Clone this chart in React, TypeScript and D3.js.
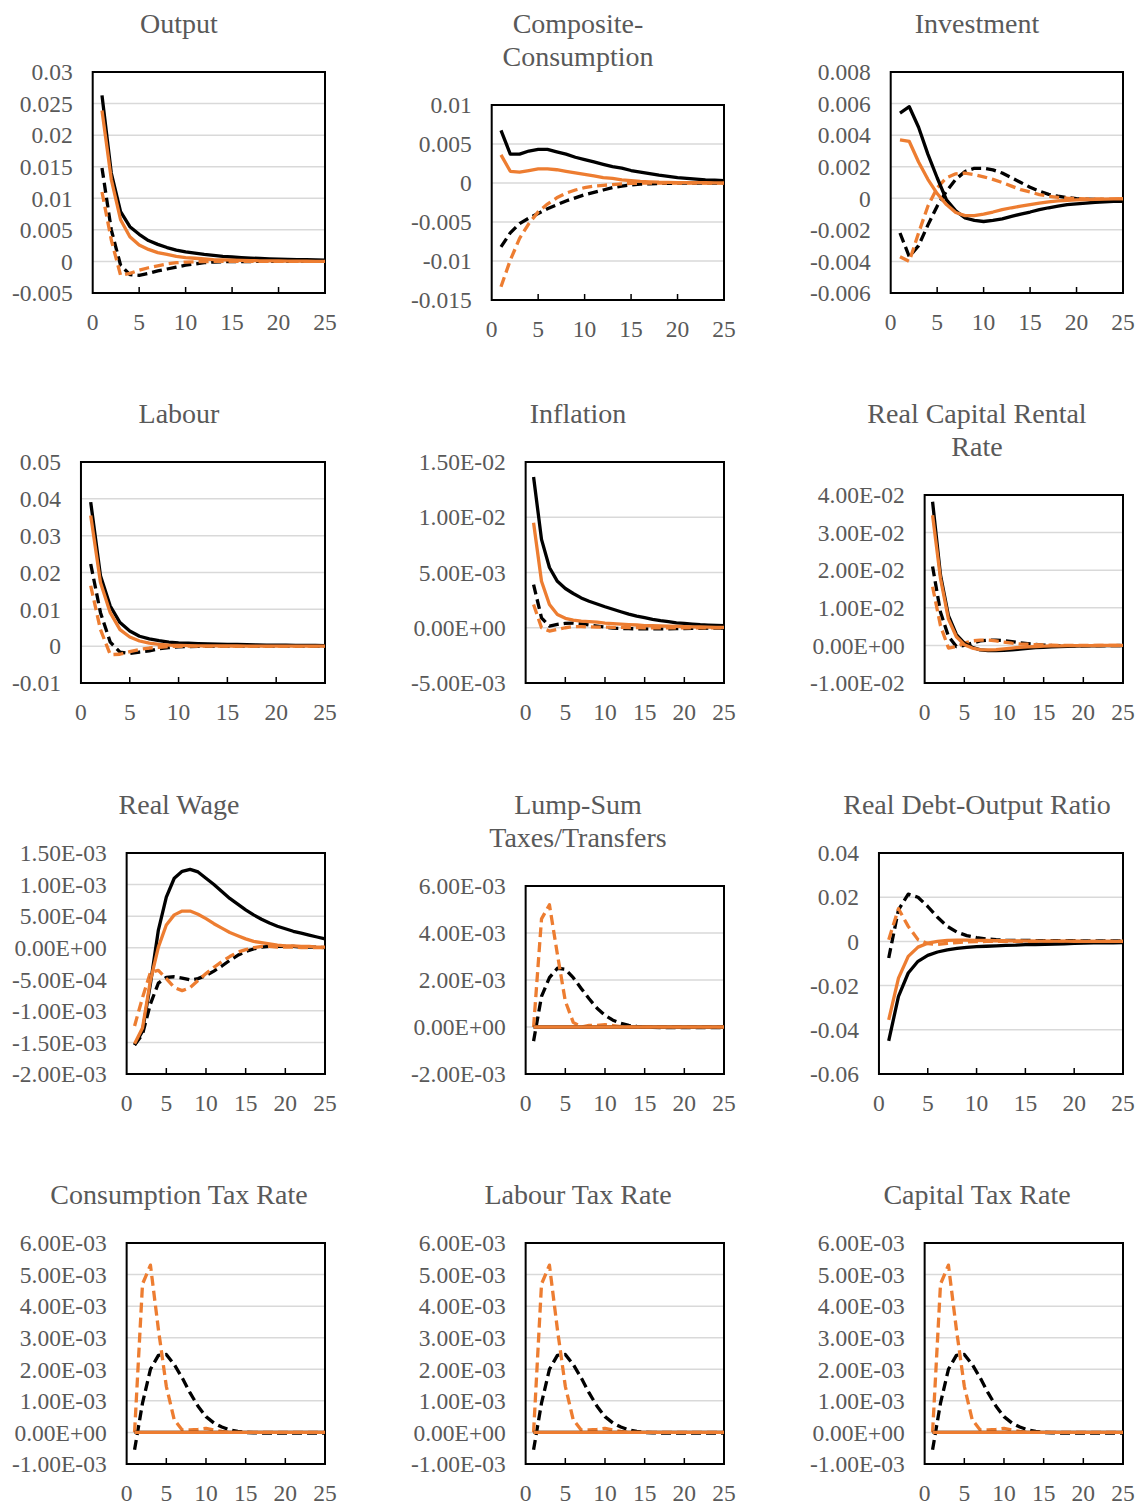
import React, { useEffect, useRef } from "react";
import * as d3 from "d3";

const WIDTH = 1138;
const HEIGHT = 1505;
const FONT = "'Liberation Serif', 'Times New Roman', serif";
const TEXT_COLOR = "#595959";
const ORANGE = "#ED7D31";

// series order in every panel: black solid, orange solid, black dashed, orange dashed
const SERIES_STYLE = [
  { color: "#000000", dash: null },
  { color: ORANGE, dash: null },
  { color: "#000000", dash: "10,5" },
  { color: ORANGE, dash: "10,5" },
];
// dashed responses sit underneath the solid ones
const DRAW_ORDER = [2, 3, 0, 1];

const X_TICKS = [0, 5, 10, 15, 20, 25];

// ---- Output
const outputS1 = [0.0263, 0.014, 0.0079, 0.0055, 0.0043, 0.0033, 0.0027, 0.0022, 0.0018, 0.0015, 0.0013, 0.0011, 0.00095, 0.0008, 0.0007, 0.0006, 0.00053, 0.00047, 0.00042, 0.00037, 0.00033, 0.0003, 0.00027, 0.00024, 0.0002];
const outputS2 = [0.0239, 0.013, 0.0066, 0.0039, 0.0026, 0.0019, 0.0014, 0.0011, 0.0008, 0.0006, 0.0005, 0.0004, 0.0003, 0.00025, 0.0002, 0.00016, 0.00013, 0.0001, 0.00008, 0.00007, 0.00005, 0.00004, 0.00003, 0.00002, 0.00002];
const outputS3 = [0.0148, 0.005, -0.0006, -0.0021, -0.0022, -0.0019, -0.0015, -0.0012, -0.0009, -0.0006, -0.0004, -0.0002, -0.0001, -0.00005, -0.00002, -0.00002, -0.00001, 0, 0, 0, 0, 0, 0, 0, 0];
const outputS4 = [0.011, 0.0034, -0.0022, -0.0019, -0.0014, -0.001, -0.0007, -0.0004, -0.0002, -0.0001, -0.00005, -0.00002, 0, 0, 0, 0, 0, 0, 0, 0, 0, 0, 0, 0, 0];

// ---- Composite-Consumption
const consS1 = [0.00675, 0.0037, 0.0037, 0.0041, 0.0043, 0.0043, 0.004, 0.0037, 0.0033, 0.003, 0.0027, 0.0024, 0.0021, 0.0019, 0.0016, 0.0014, 0.0012, 0.001, 0.00085, 0.0007, 0.0006, 0.0005, 0.0004, 0.00035, 0.0003];
const consS2 = [0.0036, 0.0015, 0.0014, 0.0016, 0.0018, 0.0018, 0.0017, 0.0015, 0.0013, 0.0011, 0.0009, 0.0007, 0.0006, 0.0004, 0.0003, 0.0002, 0.00015, 0.0001, 0.00008, 0.00006, 0.00005, 0.00004, 0.00003, 0.00002, 0.00002];
const consS3 = [-0.0082, -0.0064, -0.0052, -0.0045, -0.0039, -0.0033, -0.0028, -0.0023, -0.0019, -0.0015, -0.0012, -0.0009, -0.0006, -0.0004, -0.00025, -0.00015, -0.0001, -0.00006, -0.00004, -0.00002, -0.00001, 0, 0, 0, 0];
const consS4 = [-0.0133, -0.0099, -0.0071, -0.0052, -0.0037, -0.0027, -0.0019, -0.0013, -0.0009, -0.0006, -0.0004, -0.0003, -0.0002, -0.0001, -0.00005, -0.00002, 0, 0, 0, 0, 0, 0, 0, 0, 0];

// ---- Investment
const invS1 = [0.0054, 0.0058, 0.0045, 0.0028, 0.0013, -0.0001, -0.0008, -0.00125, -0.0014, -0.00147, -0.0014, -0.0013, -0.00115, -0.001, -0.00087, -0.00072, -0.0006, -0.0005, -0.0004, -0.00035, -0.0003, -0.00025, -0.00022, -0.0002, -0.0002];
const invS2 = [0.0037, 0.0036, 0.0023, 0.0012, 0.0003, -0.0004, -0.0009, -0.0011, -0.0011, -0.001, -0.00087, -0.00072, -0.0006, -0.0005, -0.0004, -0.0003, -0.00023, -0.00017, -0.00013, -0.0001, -0.00008, -0.00006, -0.00005, -0.00004, -0.00003];
const invS3 = [-0.0022, -0.0037, -0.003, -0.0017, -0.0005, 0.00045, 0.0012, 0.0017, 0.0019, 0.0019, 0.0018, 0.0016, 0.0013, 0.001, 0.0007, 0.00045, 0.00025, 0.00013, 0.00004, -0.00002, -0.00005, -0.00007, -0.00008, -0.00008, -0.00008];
const invS4 = [-0.0037, -0.004, -0.0022, -0.0005, 0.00066, 0.0013, 0.00155, 0.0016, 0.0015, 0.00136, 0.0012, 0.001, 0.00077, 0.00055, 0.0004, 0.00023, 0.00013, 0.00006, 0.00001, -0.00002, -0.00004, -0.00005, -0.00005, -0.00005, -0.00005];

// ---- Labour
const labS1 = [0.0391, 0.0191, 0.0109, 0.0064, 0.0041, 0.0027, 0.002, 0.0015, 0.0011, 0.0009, 0.0008, 0.0007, 0.0006, 0.00055, 0.0005, 0.00045, 0.0004, 0.00035, 0.0003, 0.0003, 0.00025, 0.00022, 0.0002, 0.00018, 0.00016];
const labS2 = [0.0355, 0.0173, 0.0091, 0.0045, 0.0025, 0.0014, 0.0008, 0.0005, 0.0003, 0.0002, 0.00015, 0.0001, 0.00008, 0.00006, 0.00005, 0.00004, 0.00003, 0.00002, 0.00002, 0.00001, 0.00001, 0, 0, 0, 0];
const labS3 = [0.0223, 0.0091, 0.0011, -0.0016, -0.002, -0.0016, -0.0013, -0.0007, -0.0004, -0.0002, -0.0001, -0.00005, -0.00002, 0, 0, 0, 0, 0, 0, 0, 0, 0, 0, 0, 0];
const labS4 = [0.0164, 0.0045, -0.0023, -0.0022, -0.0015, -0.0009, -0.0005, -0.0003, -0.0001, -0.00005, 0, 0, 0, 0, 0, 0, 0, 0, 0, 0, 0, 0, 0, 0, 0];

// ---- Inflation
const inflS1 = [0.01364, 0.008, 0.00545, 0.0042, 0.00355, 0.0031, 0.0027, 0.0024, 0.00215, 0.0019, 0.00167, 0.00145, 0.00124, 0.00106, 0.00091, 0.00076, 0.00064, 0.00055, 0.00045, 0.0004, 0.00033, 0.00027, 0.00024, 0.00022, 0.0002];
const inflS2 = [0.0095, 0.0042, 0.0021, 0.0012, 0.00085, 0.0007, 0.0006, 0.00055, 0.0005, 0.00042, 0.00037, 0.00033, 0.00029, 0.00025, 0.0002, 0.00018, 0.00016, 0.00014, 0.00012, 0.0001, 0.00008, 0.00007, 0.00005, 0.00004, 0.00003];
const inflS3 = [0.0039, 0.0009, 0.00015, 0.0003, 0.0004, 0.00042, 0.00036, 0.00024, 0.00015, 0.00006, -0.00003, -0.00006, -0.00008, -0.0001, -0.0001, -0.0001, -0.0001, -0.00009, -0.00008, -0.00007, -0.00006, -0.00005, -0.00004, -0.00003, -0.00002];
const inflS4 = [0.0021, 0, -0.0003, -0.00015, 0, 0.0001, 0.0001, 0.00008, 0.00006, 0.00005, 0.00004, 0.00003, 0.00002, 0.00001, 0, 0, 0, 0, 0, 0, 0, 0, 0, 0, 0];

// ---- Real Capital Rental Rate
const rentS1 = [0.0382, 0.0187, 0.0079, 0.0029, 0.0006, -0.0005, -0.0012, -0.0014, -0.0014, -0.0013, -0.0012, -0.001, -0.0008, -0.0006, -0.0005, -0.0004, -0.0003, -0.00025, -0.0002, -0.00015, -0.00012, -0.0001, -0.00008, -0.00006, -0.00005];
const rentS2 = [0.0346, 0.0178, 0.007, 0.0023, 0.0002, -0.0007, -0.0011, -0.0012, -0.0011, -0.0009, -0.0007, -0.0005, -0.0004, -0.0003, -0.0002, -0.00015, -0.0001, -0.00008, -0.00006, -0.00005, -0.00004, -0.00003, -0.00002, -0.00002, -0.00001];
const rentS3 = [0.021, 0.0088, 0.0024, -0.0003, 0, 0.0006, 0.0012, 0.0014, 0.0014, 0.0013, 0.001, 0.0007, 0.0005, 0.0003, 0.0001, 0, -0.00005, -0.00008, -0.0001, -0.0001, -0.00008, -0.00006, -0.00005, -0.00004, -0.00003];
const rentS4 = [0.0156, 0.0052, -0.0007, -0.0003, 0.0006, 0.0012, 0.0014, 0.0014, 0.0012, 0.0009, 0.0006, 0.0004, 0.0003, 0.0002, 0.0001, 0.00005, 0, 0, 0, 0, 0, 0, 0, 0, 0];

// ---- Real Wage
const wageS1 = [-0.00154, -0.00132, -0.00057, 0.00028, 0.0008, 0.0011, 0.00121, 0.00124, 0.0012, 0.0011, 0.001, 0.00089, 0.00078, 0.00069, 0.0006, 0.00052, 0.00045, 0.00039, 0.00034, 0.0003, 0.00026, 0.00023, 0.0002, 0.00017, 0.00014];
const wageS2 = [-0.00152, -0.00127, -0.00052, 0.00001, 0.00036, 0.00052, 0.00058, 0.00058, 0.00053, 0.00046, 0.00038, 0.00031, 0.00024, 0.00019, 0.00014, 0.0001, 0.00008, 0.00006, 0.00004, 0.00003, 0.00003, 0.00002, 0.00002, 0.00001, 0.00001];
const wageS3 = [-0.00154, -0.00137, -0.00089, -0.00056, -0.00047, -0.00046, -0.00048, -0.00051, -0.00049, -0.00044, -0.00037, -0.00029, -0.0002, -0.00012, -0.00006, -0.00002, 0.00001, 0.00002, 0.00002, 0.00002, 0.00002, 0.00001, 0.00001, 0.00001, 0];
const wageS4 = [-0.00124, -0.00079, -0.00039, -0.00036, -0.00049, -0.00063, -0.00068, -0.00063, -0.00052, -0.00041, -0.00031, -0.00022, -0.00014, -0.00007, -0.00003, 0, 0.00002, 0.00002, 0.00001, 0.00001, 0.00001, 0, 0, 0, 0];

// ---- Lump-Sum Taxes/Transfers
const lumpS1 = [0, 0, 0, 0, 0, 0, 0, 0, 0, 0, 0, 0, 0, 0, 0, 0, 0, 0, 0, 0, 0, 0, 0, 0, 0];
const lumpS2 = [0, 0, 0, 0, 0, 0, 0, 0, 0, 0, 0, 0, 0, 0, 0, 0, 0, 0, 0, 0, 0, 0, 0, 0, 0];
const lumpS3 = [-0.0006, 0.0013, 0.0021, 0.0025, 0.00246, 0.0021, 0.00164, 0.0012, 0.0008, 0.0005, 0.00029, 0.00016, 0.00007, 0.00003, 0, -0.00002, -0.00003, -0.00003, -0.00003, -0.00003, -0.00003, -0.00003, -0.00003, -0.00003, -0.00003];
const lumpS4 = [0, 0.0046, 0.0052, 0.0031, 0.0011, 0.0002, 0, 0.00007, 0.00007, 0.0001, 0.00006, 0.00002, 0, 0, 0, 0, 0, 0, 0, 0, 0, 0, 0, 0, 0];

// ---- Real Debt-Output Ratio
const debtS1 = [-0.045, -0.0249, -0.0143, -0.009, -0.0063, -0.0048, -0.0038, -0.0032, -0.0027, -0.0024, -0.0022, -0.002, -0.0018, -0.0017, -0.0015, -0.0014, -0.0013, -0.0012, -0.0011, -0.0009, -0.0008, -0.0007, -0.0006, -0.0006, -0.0005];
const debtS2 = [-0.0355, -0.0166, -0.0068, -0.0026, -0.0008, 0, 0.0005, 0.0006, 0.0006, 0.0005, 0.0004, 0.0003, 0.0003, 0.0002, 0.0002, 0.00015, 0.0001, 0.0001, 0.00008, 0.00006, 0.00005, 0.00004, 0.00003, 0.00002, 0.00002];
const debtS3 = [-0.0075, 0.0143, 0.0214, 0.02, 0.0158, 0.0109, 0.0068, 0.0042, 0.0026, 0.0017, 0.0011, 0.0008, 0.0006, 0.0005, 0.0004, 0.0004, 0.0003, 0.0003, 0.0003, 0.0003, 0.0002, 0.0002, 0.0002, 0.0002, 0.0002];
const debtS4 = [0.0008, 0.0148, 0.0068, 0.0008, -0.001, -0.0014, -0.0009, -0.0005, -0.0002, -0.0001, 0, 0, 0, 0, 0, 0, 0, 0, 0, 0, 0, 0, 0, 0, 0];

// ---- Tax rates (consumption, labour and capital panels plot the same responses)
const taxS1 = [0, 0, 0, 0, 0, 0, 0, 0, 0, 0, 0, 0, 0, 0, 0, 0, 0, 0, 0, 0, 0, 0, 0, 0, 0];
const taxS2 = [0, 0, 0, 0, 0, 0, 0, 0, 0, 0, 0, 0, 0, 0, 0, 0, 0, 0, 0, 0, 0, 0, 0, 0, 0];
const taxS3 = [-0.00055, 0.00093, 0.002, 0.00244, 0.00247, 0.00215, 0.00173, 0.00125, 0.00083, 0.0005, 0.0003, 0.00017, 0.00008, 0.00003, 0, -0.00001, -0.00002, -0.00002, -0.00002, -0.00002, -0.00002, -0.00002, -0.00002, -0.00002, -0.00002];
const taxS4 = [0, 0.0047, 0.0053, 0.00327, 0.00146, 0.0004, 0.00008, 0.00008, 0.0001, 0.00013, 0.00008, 0.00003, 0, 0, 0, 0, 0, 0, 0, 0, 0, 0, 0, 0, 0];

type Panel = {
  title: string[];
  series: number[][];
  domain: [number, number];
  step: number;
  sci: boolean;
};

const PANELS: Panel[] = [
  { title: ["Output"], series: [outputS1, outputS2, outputS3, outputS4], domain: [-0.005, 0.03], step: 0.005, sci: false },
  { title: ["Composite-", "Consumption"], series: [consS1, consS2, consS3, consS4], domain: [-0.015, 0.01], step: 0.005, sci: false },
  { title: ["Investment"], series: [invS1, invS2, invS3, invS4], domain: [-0.006, 0.008], step: 0.002, sci: false },
  { title: ["Labour"], series: [labS1, labS2, labS3, labS4], domain: [-0.01, 0.05], step: 0.01, sci: false },
  { title: ["Inflation"], series: [inflS1, inflS2, inflS3, inflS4], domain: [-0.005, 0.015], step: 0.005, sci: true },
  { title: ["Real Capital Rental", "Rate"], series: [rentS1, rentS2, rentS3, rentS4], domain: [-0.01, 0.04], step: 0.01, sci: true },
  { title: ["Real Wage"], series: [wageS1, wageS2, wageS3, wageS4], domain: [-0.002, 0.0015], step: 0.0005, sci: true },
  { title: ["Lump-Sum", "Taxes/Transfers"], series: [lumpS1, lumpS2, lumpS3, lumpS4], domain: [-0.002, 0.006], step: 0.002, sci: true },
  { title: ["Real Debt-Output Ratio"], series: [debtS1, debtS2, debtS3, debtS4], domain: [-0.06, 0.04], step: 0.02, sci: false },
  { title: ["Consumption Tax Rate"], series: [taxS1, taxS2, taxS3, taxS4], domain: [-0.001, 0.006], step: 0.001, sci: true },
  { title: ["Labour Tax Rate"], series: [taxS1, taxS2, taxS3, taxS4], domain: [-0.001, 0.006], step: 0.001, sci: true },
  { title: ["Capital Tax Rate"], series: [taxS1, taxS2, taxS3, taxS4], domain: [-0.001, 0.006], step: 0.001, sci: true },
];

const COL_X = [0, 399, 798];
const ROW_Y = [0, 390, 781, 1171];

const general = (v: number) => String(+v.toFixed(6));

const scientific = (v: number) => {
  if (Math.abs(v) < 1e-12) return "0.00E+00";
  let e = Math.floor(Math.log10(Math.abs(v)));
  let m = v / Math.pow(10, e);
  if (Math.abs(+m.toFixed(2)) >= 10) {
    e += 1;
    m = v / Math.pow(10, e);
  }
  return `${m.toFixed(2)}E${e < 0 ? "-" : "+"}${String(Math.abs(e)).padStart(2, "0")}`;
};

const ticksFor = ({ domain: [lo, hi], step }: Panel) =>
  d3.range(Math.round((hi - lo) / step) + 1).map((k) => +(lo + k * step).toFixed(10));

function App() {
  const ref = useRef<SVGSVGElement>(null);

  useEffect(() => {
    if (!ref.current) return;
    const svg = d3.select(ref.current);
    svg.selectAll("*").remove();

    PANELS.forEach((panel, i) => {
      const col = i % 3;
      const row = Math.floor(i / 3);
      const ox = COL_X[col];
      const oy = ROW_Y[row];
      const g = svg.append("g");

      const title = g
        .append("text")
        .attr("text-anchor", "middle")
        .attr("font-size", 28)
        .attr("fill", TEXT_COLOR)
        .attr("y", oy + 33);
      panel.title.forEach((line, k) =>
        title
          .append("tspan")
          .attr("x", ox + 179)
          .attr("dy", k ? 33 : 0)
          .text(line)
      );

      const top = oy + (panel.title.length > 1 ? 105 : 72);
      const bottom = oy + 293 + (i === 1 ? 7 : 0);
      const right = ox + 325;

      const ticks = ticksFor(panel);
      const fmt = panel.sci ? scientific : general;

      const yLabels = g
        .append("g")
        .attr("font-size", 23.5)
        .attr("fill", TEXT_COLOR)
        .attr("text-anchor", "end")
        .selectAll("text")
        .data(ticks)
        .join("text")
        .text(fmt);

      const maxW =
        d3.max(yLabels.nodes() as SVGTextElement[], (n) => n.getComputedTextLength()) || 60;
      const left = ox + 11 + maxW + 21;

      const x = d3.scaleLinear().domain([0, 25]).range([left, right]);
      const y = d3.scaleLinear().domain(panel.domain).range([bottom, top]);

      yLabels
        .attr("x", left - 20)
        .attr("y", (d) => y(d))
        .attr("dy", "0.35em");

      g.append("g")
        .selectAll("line")
        .data(ticks.slice(1, -1))
        .join("line")
        .attr("x1", left)
        .attr("x2", right)
        .attr("y1", (d) => y(d))
        .attr("y2", (d) => y(d))
        .attr("stroke", "#d9d9d9")
        .attr("stroke-width", 1.5);

      g.append("rect")
        .attr("x", left)
        .attr("y", top)
        .attr("width", right - left)
        .attr("height", bottom - top)
        .attr("fill", "none")
        .attr("stroke", "#000")
        .attr("stroke-width", 2);

      g.append("g")
        .selectAll("line")
        .data(X_TICKS.slice(1, -1))
        .join("line")
        .attr("x1", (d) => x(d))
        .attr("x2", (d) => x(d))
        .attr("y1", bottom)
        .attr("y2", bottom - 6)
        .attr("stroke", "#000")
        .attr("stroke-width", 1.5);

      g.append("g")
        .attr("font-size", 23.5)
        .attr("fill", TEXT_COLOR)
        .attr("text-anchor", "middle")
        .selectAll("text")
        .data(X_TICKS)
        .join("text")
        .attr("x", (d) => x(d))
        .attr("y", bottom + 29)
        .attr("dy", "0.35em")
        .text((d) => String(d));

      const line = d3
        .line<number>()
        .x((_, k) => x(k + 1))
        .y((d) => y(d));

      DRAW_ORDER.forEach((s) => {
        const style = SERIES_STYLE[s];
        g.append("path")
          .attr("d", line(panel.series[s]))
          .attr("fill", "none")
          .attr("stroke", style.color)
          .attr("stroke-width", 3.3)
          .attr("stroke-linejoin", "round")
          .attr("stroke-dasharray", style.dash);
      });
    });
  }, []);

  return (
    <svg
      ref={ref}
      width={WIDTH}
      height={HEIGHT}
      style={{ position: "absolute", left: 0, top: 0, background: "#fff", fontFamily: FONT }}
    />
  );
}

export default App;
